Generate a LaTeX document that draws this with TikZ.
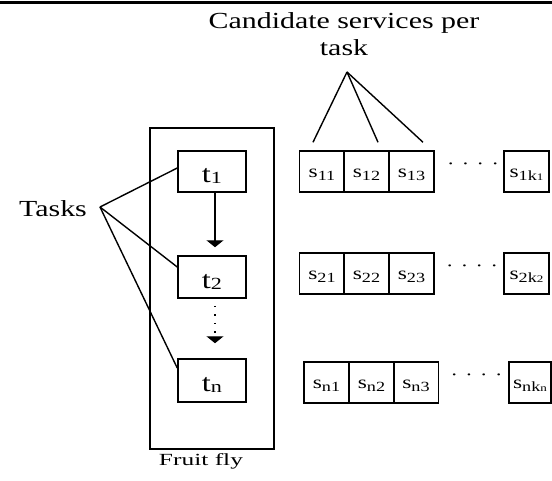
\documentclass[tikz,border=0pt]{standalone}
\usepackage{fontspec}
\setmainfont{Liberation Serif}[FakeStretch=1.3]
\usepackage{graphicx}
\usetikzlibrary{arrows.meta,calc}
\newcommand{\fsz}[1]{\fontsize{#1}{#1}\selectfont}
\newcommand{\slab}[1]{s\raisebox{-3pt}{\fsz{14}#1}}
\newcommand{\tlab}[1]{t\raisebox{-1pt}{\fsz{17}#1}}
\tikzset{
  box/.style={draw, line width=1.5pt, inner sep=0pt, minimum height=41pt},
  tbox/.style={box, minimum width=68pt, font=\fsz{25}, text height=23pt, text depth=1pt},
  sbox/.style={box, minimum width=44.7pt, font=\fsz{18}, text height=13pt, text depth=2pt},
  conn/.style={line width=1.4pt},
  flowarrow/.style={line width=1.4pt, -{Triangle[width=17pt,length=7pt]}},
  dotrow/.style={font=\fsz{17}, inner sep=0pt},
  lab/.style={inner sep=0pt},
}
\begin{document}
\begin{tikzpicture}[x=1pt,y=-1pt]
\useasboundingbox (0,0) rectangle (552,480);
\draw[line width=3pt] (0,2) -- (552,2);

% labels
\node[lab, anchor=north, align=center, font=\fontsize{23}{27}\selectfont] (cand) at (344,12.3) {Candidate services per\\task};
\node[lab, anchor=base, font=\fsz{23}] (tasks) at (53,216) {Tasks};
\node[lab, anchor=base, font=\fsz{17}] (fly) at (201,465) {\scalebox{1.15}[1]{Fruit fly}};

% fruit fly box
\node[draw, line width=1.6pt, minimum width=124pt, minimum height=321pt, inner sep=0pt] (ff) at (212,288.5) {};

% tasks
\node[tbox] (t1) at (212,171.5) {\tlab{1}};
\node[tbox, minimum height=42pt] (t2) at (212,277) {\tlab{2}};
\node[tbox, minimum height=43pt] (tn) at (212,380.5) {\tlab{n}};

\draw[flowarrow, shorten >=8pt] ([xshift=3pt]t1.south) -- ([xshift=3pt]t2.north);
\draw[flowarrow, dash pattern=on 1.5pt off 7pt, dash phase=1.5pt, shorten >=15pt] ([xshift=3pt]t2.south) -- ([xshift=3pt]tn.north);

% services row 1
\node[sbox] (s11) at (322,171.5) {\slab{11}};
\node[sbox] (s12) at (366.5,171.5) {\slab{12}};
\node[sbox] (s13) at (411.5,171.5) {\slab{13}};
\node[dotrow] (d1) at (473,166) {·\hspace{7.5pt}·\hspace{7.5pt}·\hspace{7.5pt}·};
\node[sbox] (s1k) at (526.5,171.5) {\slab{1k\fsz{10}1}};

% row 2
\node[sbox] (s21) at (322,273.5) {\slab{21}};
\node[sbox] (s22) at (366.5,273.5) {\slab{22}};
\node[sbox] (s23) at (411.5,273.5) {\slab{23}};
\node[dotrow] (d2) at (472,268) {·\hspace{7.5pt}·\hspace{7.5pt}·\hspace{7.5pt}·};
\node[sbox] (s2k) at (526.5,273.5) {\slab{2k\fsz{10}2}};

% row n
\node[sbox] (sn1) at (326.5,382.5) {\slab{n1}};
\node[sbox] (sn2) at (371.5,382.5) {\slab{n2}};
\node[sbox] (sn3) at (416,382.5) {\slab{n3}};
\node[dotrow] (d3) at (476.5,377) {·\hspace{7.5pt}·\hspace{7.5pt}·\hspace{7.5pt}·};
\node[sbox, minimum width=42pt] (snk) at (530,382.5) {\slab{nk\fsz{10}n}};

% connectors
\coordinate (tk) at (100,207);
\draw[conn] (tk) -- ([yshift=3.5pt]t1.west);
\draw[conn] (tk) -- ([yshift=10pt]t2.west);
\draw[conn] (tk) -- ([yshift=12.5pt]tn.west);

\coordinate (ca) at (347,72);
\draw[conn] (ca) -- ([shift={(-9pt,8pt)}]s11.north);
\draw[conn] (ca) -- ([shift={(11.5pt,8pt)}]s12.north);
\draw[conn] (ca) -- ([shift={(11.5pt,8pt)}]s13.north);
\end{tikzpicture}
\end{document}
